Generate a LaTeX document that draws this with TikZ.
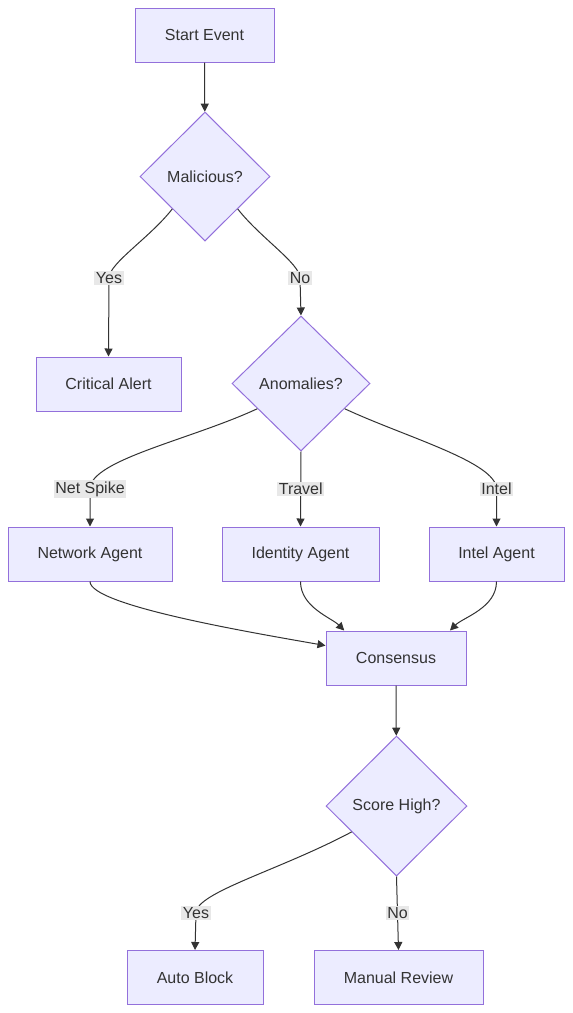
\documentclass[tikz,border=0pt]{standalone}
\usepackage{fontspec}
\setmainfont{Liberation Sans}
\usepackage{xcolor}
\usetikzlibrary{positioning,arrows.meta,shapes.geometric}

\definecolor{boxfill}{HTML}{ECECFF}
\definecolor{boxline}{HTML}{9370DB}
\definecolor{ink}{HTML}{333333}
\definecolor{lblfill}{HTML}{E8E8E8}

\begin{document}
\begin{tikzpicture}[x=1pt, y=1pt, >={Triangle[length=8pt,width=8pt]},
 every node/.style={font=\fontsize{16}{19}\selectfont, text=ink},
 main/.style={rectangle, draw=boxline, fill=boxfill, line width=1pt, minimum height=54pt, inner sep=0pt},
 decide/.style={diamond, draw=boxline, fill=boxfill, line width=1pt, inner sep=0pt},
 flow/.style={->, draw=ink, line width=1pt},
 lbl/.style={fill=lblfill, inner sep=1.5pt}]

\useasboundingbox (0,0) rectangle (573,-1013);

% first check
\node[main, minimum width=139pt] (start) at (204.5,-35) {Start Event};
\node[decide, minimum width=130pt, minimum height=129pt] (mal) at (205,-176.5) {Malicious?};
\node[main, minimum width=145pt] (crit) at (108.5,-384) {Critical Alert};
\node[decide, minimum width=138pt, minimum height=135pt] (anom) at (301,-383.5) {Anomalies?};

% agents
\node[main, minimum width=164pt] (net) at (90,-554) {Network Agent};
\node[main, minimum width=157pt] (ident) at (300.5,-554) {Identity Agent};
\node[main, minimum width=135pt] (intel) at (496.5,-554) {Intel Agent};
\node[main, minimum width=140pt] (cons) at (396,-658) {Consensus};

% decision
\node[decide, minimum width=141pt, minimum height=140pt] (score) at (396.5,-806) {Score High?};
\node[main, minimum width=136pt] (auto) at (195,-977.5) {Auto Block};
\node[main, minimum width=169pt] (manual) at (398.5,-977.5) {Manual Review};

\draw[flow] (start) -- (mal);
\draw[flow] (mal.south west) to[out=-128,in=90,in looseness=0.4] node[lbl,pos=1] {Yes} (109,-278) -- (crit.north);
\draw[flow] (mal.south east) to[out=-52,in=90,in looseness=0.4] node[lbl,pos=1] {No} (300,-278) -- (anom.north);

\draw[flow] (anom.-150) to[out=-155,in=90,in looseness=0.4] node[lbl,pos=1] {Net Spike} (90,-489) -- (net.north);
\draw[flow] (anom.south) -- node[lbl] {Travel} (ident.north);
\draw[flow] (anom.-30) to[out=-25,in=90,in looseness=0.4] node[lbl,pos=1] {Intel} (496.5,-489) -- (intel.north);

\draw[flow] (net.south) to[out=-90,in=170,out looseness=0.25,in looseness=0.8] (cons.170);
\draw[flow] (ident.south) to[out=-90,in=135,in looseness=0.7] (cons.152);
\draw[flow] (intel.south) to[out=-90,in=45,in looseness=0.7] (cons.27);

\draw[flow] (cons) -- (score);
\draw[flow] (score.-150) to[out=-152,in=90,out looseness=1.2,in looseness=0.3] node[lbl,pos=1] {Yes} (196,-913) -- (auto.north);
\draw[flow] (score.south) -- node[lbl] {No} (manual.north);
\end{tikzpicture}
\end{document}
